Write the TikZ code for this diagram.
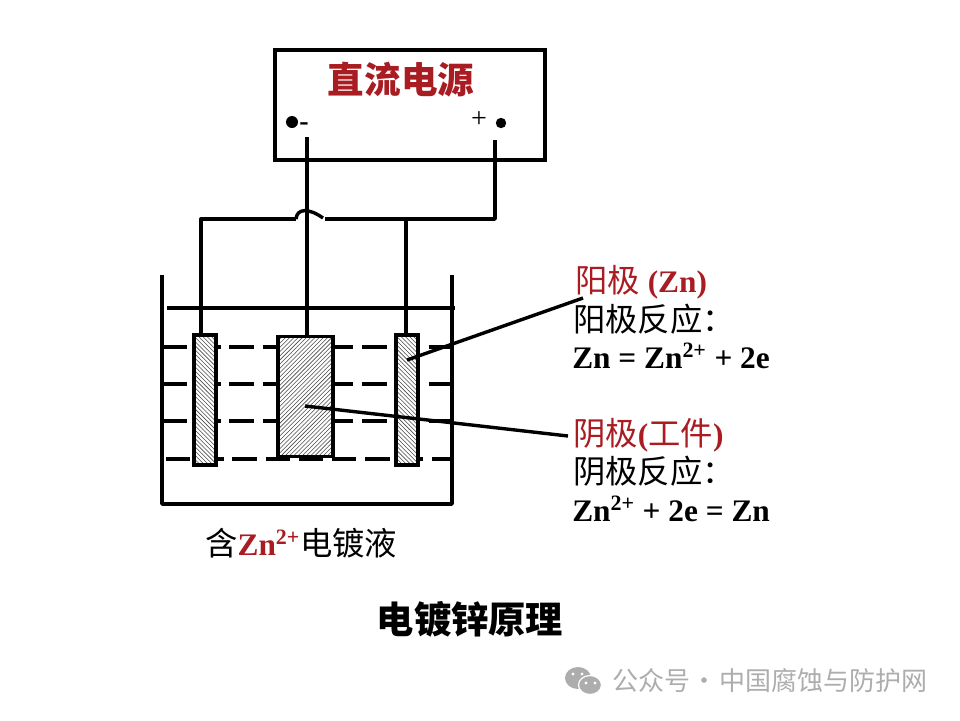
\documentclass[tikz,border=0pt]{standalone}
\usepackage{fontspec}
\setmainfont{Liberation Serif}
\newfontfamily\cjk{Noto Sans CJK SC}
\usetikzlibrary{patterns}
\definecolor{darkred}{HTML}{A81C22}
\definecolor{markgray}{HTML}{ADADAD}
\newcommand{\ZnIon}{Zn\textsuperscript{2+}}
\tikzset{
wire/.style={line width=.85mm},
bath/.style={wire,dash pattern=on 6.1mm off 2.2mm},
electrode/.style={draw,wire,preaction={fill=white},pattern color=black!70,inner sep=0,minimum width=5.5mm,minimum height=32.5mm},
lbl/.style={anchor=base west,inner sep=0,font=\fontsize{22.3}{22.3}\selectfont\bfseries},
zh/.style={anchor=base west,inner sep=0,font=\fontsize{23}{23}\selectfont\cjk},
terminal/.style={circle,fill=black,inner sep=0,minimum size=2.6mm}}
\begin{document}
\begin{tikzpicture}[x=.25mm,y=-.25mm]
\useasboundingbox (0,0) rectangle (960,720);
\node[draw,wire,minimum width=67.5mm,minimum height=27.5mm,inner sep=0] (supply) at (410,105){};
\node[anchor=base,inner sep=0,text=darkred,font=\fontsize{26}{26}\selectfont\cjk\bfseries] (supplyname) at (401,93){直流电源};
\node[terminal,minimum size=3mm] (negdot) at (292,122){};\node[terminal] (posdot) at (501,123){};
\node[inner sep=0,font=\fontsize{20}{20}\selectfont\bfseries] (negsign) at (304,127){-};
\node[inner sep=0,font=\fontsize{20}{20}\selectfont] (possign) at (479,120){+};
\coordinate (negtap) at (307,137);\coordinate (postap) at (495,140);\coordinate (corner) at (495,219);
\coordinate (jumpl) at (296,219);\coordinate (jumpr) at (325,219);\coordinate (midtap) at (406,219);
% bath
\draw[wire,line join=round] (162,275)--(162,504)--(452,504)--(452,275);
\draw[wire] (167,308)--(455,308);
\draw[bath] (163,347)--(450,347);\draw[bath] (163,384)--(450,384);\draw[bath] (163,421)--(450,421);
\draw[bath] (166,459)--(454,459);
\node[electrode,pattern=north west lines] (anodel) at (205,400){};
\node[electrode,pattern=north west lines] (anoder) at (407,400){};
\node[electrode,pattern=north east lines,minimum width=13.8mm,minimum height=30mm] (cathode) at (305.5,396.5){};
% wires
\coordinate (lefttop) at (201,219);
\draw[wire,line join=round] (postap)--(corner)--(jumpr);
\draw[wire,line join=round] (jumpl)--(lefttop)--(lefttop |- anodel.north);
\draw[wire] (jumpl) .. controls (297,208) and (309,208) .. (323,218);
\draw[wire] (negtap)--(negtap |- cathode.north);
\draw[wire] (midtap)--(midtap |- anoder.north);
% labels
\node[lbl,text=darkred] (anodename) at (575,292){{\cjk\mdseries\fontsize{23}{23}\selectfont 阳极} (Zn)};
\node[zh] (anodetitle) at (573,331){阳极反应：};
\node[lbl] (anodeeq) at (572,368){Zn = \ZnIon{} + 2e};
\node[lbl,text=darkred] (cathodename) at (573,445){{\cjk\mdseries\fontsize{23}{23}\selectfont 阴极}({\cjk\mdseries\fontsize{23}{23}\selectfont 工件})};
\node[zh] (cathodetitle) at (573,483){阴极反应：};
\node[lbl] (cathodeeq) at (572,521){\ZnIon{} + 2e = Zn};
\node[zh] (bathname) at (205,555){含{\rmfamily\bfseries\fontsize{22.3}{22.3}\selectfont\color{darkred} \ZnIon}电镀液};
\node[anchor=base,inner sep=0,font=\fontsize{26.5}{26.5}\selectfont\cjk\bfseries] (title) at (470,633){电镀锌原理};
\coordinate (anodeend) at (583,298);\coordinate (anodetip) at (407,360);
\coordinate (cathodeend) at (568,436);\coordinate (cathodetip) at (305,406);
\draw[wire] (anodetip)--(anodeend);\draw[wire] (cathodetip)--(cathodeend);
% watermark
\fill[markgray] (578,678) ellipse (13 and 11);
\fill[markgray,draw=white,line width=.3mm] (590,685) ellipse (11.5 and 9.5);
\foreach \ex/\ey in {573/674,582/674,586/683,595/683}\fill[white] (\ex,\ey) circle (1.6);
\node[anchor=base west,inner sep=0,text=markgray,font=\fontsize{18.5}{18.5}\selectfont\cjk] (markname) at (612,690){公众号\hspace{1pt}·\hspace{1pt}中国腐蚀与防护网};
\end{tikzpicture}
\end{document}
